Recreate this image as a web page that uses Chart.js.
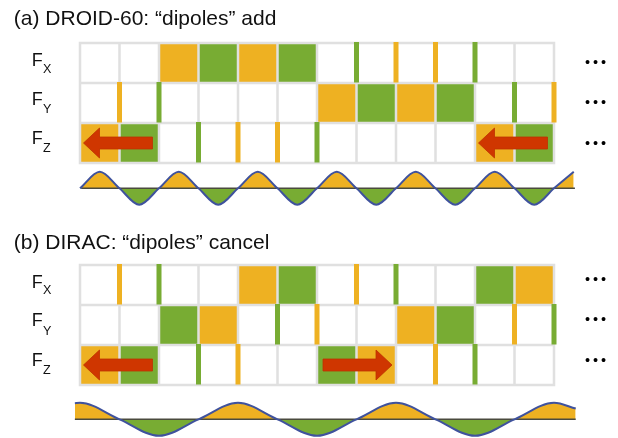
<!DOCTYPE html>
<html><head><meta charset="utf-8">
<script src="https://cdn.jsdelivr.net/npm/chart.js@4.4.1/dist/chart.umd.min.js"></script>
<style>
html,body{margin:0;padding:0;background:#fff;}
#wrap{position:relative;width:618px;height:438px;overflow:hidden;font-family:"Liberation Sans",Arial,Helvetica,sans-serif;color:#111;}
#c{position:absolute;left:0;top:0;}
.t{position:absolute;line-height:1;white-space:nowrap;}
</style></head><body>
<div id="wrap"><canvas id="c" width="618" height="438"></canvas></div>
<script>
// ---------------- data ----------------
const panelTitles = ['(a) DROID-60: \u201Cdipoles\u201D add', '(b) DIRAC: \u201Cdipoles\u201D cancel'];
const rowLabels = ['X', 'Y', 'Z'];
const columns = [0,1,2,3,4,5,6,7,8,9,10,11];
// cell codes: 0 empty, 1 orange (+), 2 green (-); edges: 13 column boundaries
const aCellsFX = [0,0,1,2,1,2,0,0,0,0,0,0];
const aCellsFY = [0,0,0,0,0,0,1,2,1,2,0,0];
const aCellsFZ = [1,2,0,0,0,0,0,0,0,0,1,2];
const aEdgesFX = [0,0,0,0,0,0,0,2,1,1,2,0,0];
const aEdgesFY = [0,1,2,0,0,0,0,0,0,0,0,2,1];
const aEdgesFZ = [0,0,0,2,1,1,2,0,0,0,0,0,0];
const aArrowCols = [0, 10];
const aArrowDirs = [-1, -1];
const aWaveX = [0,0.5,1,1.5,2,2.5,3,3.5,4,4.5,5,5.5,6,6.5,7,7.5,8,8.5,9,9.5,10,10.5,11,11.5,12,12.5];
const aWaveY = [0,1,0,-1,0,1,0,-1,0,1,0,-1,0,1,0,-1,0,1,0,-1,0,1,0,-1,0,1];
const aAxisX = [0.03, 12.53];

const bCellsFX = [0,0,0,0,1,2,0,0,0,0,2,1];
const bCellsFY = [0,0,2,1,0,0,0,0,1,2,0,0];
const bCellsFZ = [1,2,0,0,0,0,2,1,0,0,0,0];
const bEdgesFX = [0,1,2,0,0,0,0,1,2,0,0,0,0];
const bEdgesFY = [0,0,0,0,0,2,1,0,0,0,0,1,2];
const bEdgesFZ = [0,0,0,2,1,0,0,0,0,1,2,0,0];
const bArrowCols = [0, 6];
const bArrowDirs = [-1, 1];
const bWaveX = [-0.13,0,1,2,3,4,5,6,7,8,9,10,11,12,12.55];
const bWaveY = [0.98,1,0,-1,0,1,0,-1,0,1,0,-1,0,1,0.65];
const bAxisX = [-0.13, 12.55];

// ---------------- style ----------------
const ORANGE = '#EEB122', GREEN = '#78AC33', RED = '#CF3600', GRID = '#E0E0E0';
const CODE_COLORS = {1: ORANGE, 2: GREEN};
const panels = [
  {cells:[aCellsFX,aCellsFY,aCellsFZ], edges:[aEdgesFX,aEdgesFY,aEdgesFZ], arrowCols:aArrowCols, arrowDirs:aArrowDirs, rowOffset:0},
  {cells:[bCellsFX,bCellsFY,bCellsFZ], edges:[bEdgesFX,bEdgesFY,bEdgesFZ], arrowCols:bArrowCols, arrowDirs:bArrowDirs, rowOffset:5.55}
];

const gridPlugin = {
  id: 'cellGrid',
  beforeDatasetsDraw(chart) {
    const ctx = chart.ctx, xs = chart.scales.x, ys = chart.scales.y;
    const nC = columns.length, nR = rowLabels.length;
    panels.forEach(p => {
      const X = i => xs.getPixelForValue(i);
      const Y = r => ys.getPixelForValue(r + p.rowOffset);
      ctx.save();
      // full cells
      for (let r = 0; r < nR; r++) for (let c = 0; c < nC; c++) {
        const code = p.cells[r][c];
        if (!code) continue;
        ctx.fillStyle = CODE_COLORS[code];
        ctx.fillRect(X(c), Y(r), X(c + 1) - X(c), Y(r + 1) - Y(r));
      }
      // grid lines
      ctx.strokeStyle = GRID; ctx.lineWidth = 2.5;
      ctx.beginPath();
      for (let c = 0; c <= nC; c++) { ctx.moveTo(X(c), Y(0) - 1.25); ctx.lineTo(X(c), Y(nR) + 1.25); }
      for (let r = 0; r <= nR; r++) { ctx.moveTo(X(0), Y(r)); ctx.lineTo(X(nC), Y(r)); }
      ctx.stroke();
      // thin edge bars
      for (let r = 0; r < nR; r++) for (let k = 0; k <= nC; k++) {
        const code = p.edges[r][k];
        if (!code) continue;
        ctx.fillStyle = CODE_COLORS[code];
        ctx.fillRect(X(k) - 2.5, Y(r) - 1, 5, Y(r + 1) - Y(r) + 0.5);
      }
      // arrows in row Z
      const rz = nR - 1;
      const cy = (Y(rz) + Y(rz + 1)) / 2;
      p.arrowCols.forEach((c, i) => {
        const dir = p.arrowDirs[i];
        let tip, tail;
        if (dir < 0) { tip = X(c) + 3.5; tail = X(c + 2) - 6.5; }
        else { tail = X(c) + 6; tip = X(c + 2) - 4; }
        const hl = 16 * dir, sh = 6, hh = 15;
        const hb = tip - hl;
        ctx.beginPath();
        ctx.moveTo(tip, cy);
        ctx.lineTo(hb, cy - hh);
        ctx.lineTo(hb, cy - sh);
        ctx.lineTo(tail, cy - sh);
        ctx.lineTo(tail, cy + sh);
        ctx.lineTo(hb, cy + sh);
        ctx.lineTo(hb, cy + hh);
        ctx.closePath();
        ctx.fillStyle = RED; ctx.fill();
        ctx.strokeStyle = '#BD3200'; ctx.lineWidth = 0.8; ctx.stroke();
      });
      ctx.restore();
    });
  }
};

const zip = (xs, ys) => xs.map((x, i) => ({x: x, y: ys[i]}));
const waveStyle = {borderColor:'#3F529D', borderWidth:2, pointRadius:0, cubicInterpolationMode:'monotone', fill:{target:'origin', above:ORANGE, below:GREEN}, order:0};
const axisStyle = {borderColor:'#4A4A3E', borderWidth:1.6, pointRadius:0, fill:false, order:1};

new Chart(document.getElementById('c'), {
  type: 'line',
  data: {datasets: [
    Object.assign({label:'wave a', data: zip(aWaveX, aWaveY), xAxisID:'x', yAxisID:'ywA'}, waveStyle),
    Object.assign({label:'axis a', data: zip(aAxisX, [0,0]), xAxisID:'x', yAxisID:'ywA'}, axisStyle),
    Object.assign({label:'wave b', data: zip(bWaveX, bWaveY), xAxisID:'x', yAxisID:'ywB'}, waveStyle),
    Object.assign({label:'axis b', data: zip(bAxisX, [0,0]), xAxisID:'x', yAxisID:'ywB'}, axisStyle)
  ]},
  options: {
    responsive:false, animation:false, devicePixelRatio:1, events:[],
    layout:{padding:0},
    plugins:{legend:{display:false}, title:{display:false}, tooltip:{enabled:false}, filler:{drawTime:'beforeDatasetsDraw'}},
    scales:{
      x:{type:'linear', display:false, bounds:'data', min:-80/39.5, max:(618-80)/39.5},
      y:{type:'linear', display:false, bounds:'data', reverse:true, min:-43/40, max:-43/40 + 438/40},
      ywA:{type:'linear', display:false, bounds:'data', min:188.3/16.5 - 438/16.5, max:188.3/16.5},
      ywB:{type:'linear', display:false, bounds:'data', min:419.3/16.5 - 438/16.5, max:419.3/16.5}
    }
  },
  plugins:[gridPlugin]
});

// ---------------- text ----------------
const wrap = document.getElementById('wrap');
function addText(txt, left, top, size) {
  const d = document.createElement('div');
  d.className = 't'; d.textContent = txt;
  d.style.left = left + 'px'; d.style.top = top + 'px'; d.style.fontSize = size + 'px';
  wrap.appendChild(d); return d;
}
const titleBaselines = [24.3, 248.3];
const fBaselines = [[66, 105, 144], [288, 326.3, 366]];
const subBaselines = [[73.3, 114, 152.7], [294.7, 335.3, 374.7]];
const dotCenters = [[62, 101.7, 143.3], [279.3, 319.3, 360]];
panelTitles.forEach((t, p) => {
  addText(t, 13.8, titleBaselines[p] - 0.8465 * 21, 21);
  rowLabels.forEach((lab, r) => {
    addText('F', 31.7, fBaselines[p][r] - 0.8465 * 18, 18);
    addText(lab, 43, subBaselines[p][r] - 0.8465 * 12.6, 12.6);
    const d = addText('\u2022\u2022\u2022', 585, dotCenters[p][r] + 5.1 - 0.8465 * 14.5, 14.5);
    d.style.letterSpacing = '2.9px';
    d.style.color = '#000';
  });
});
</script>
</body></html>
